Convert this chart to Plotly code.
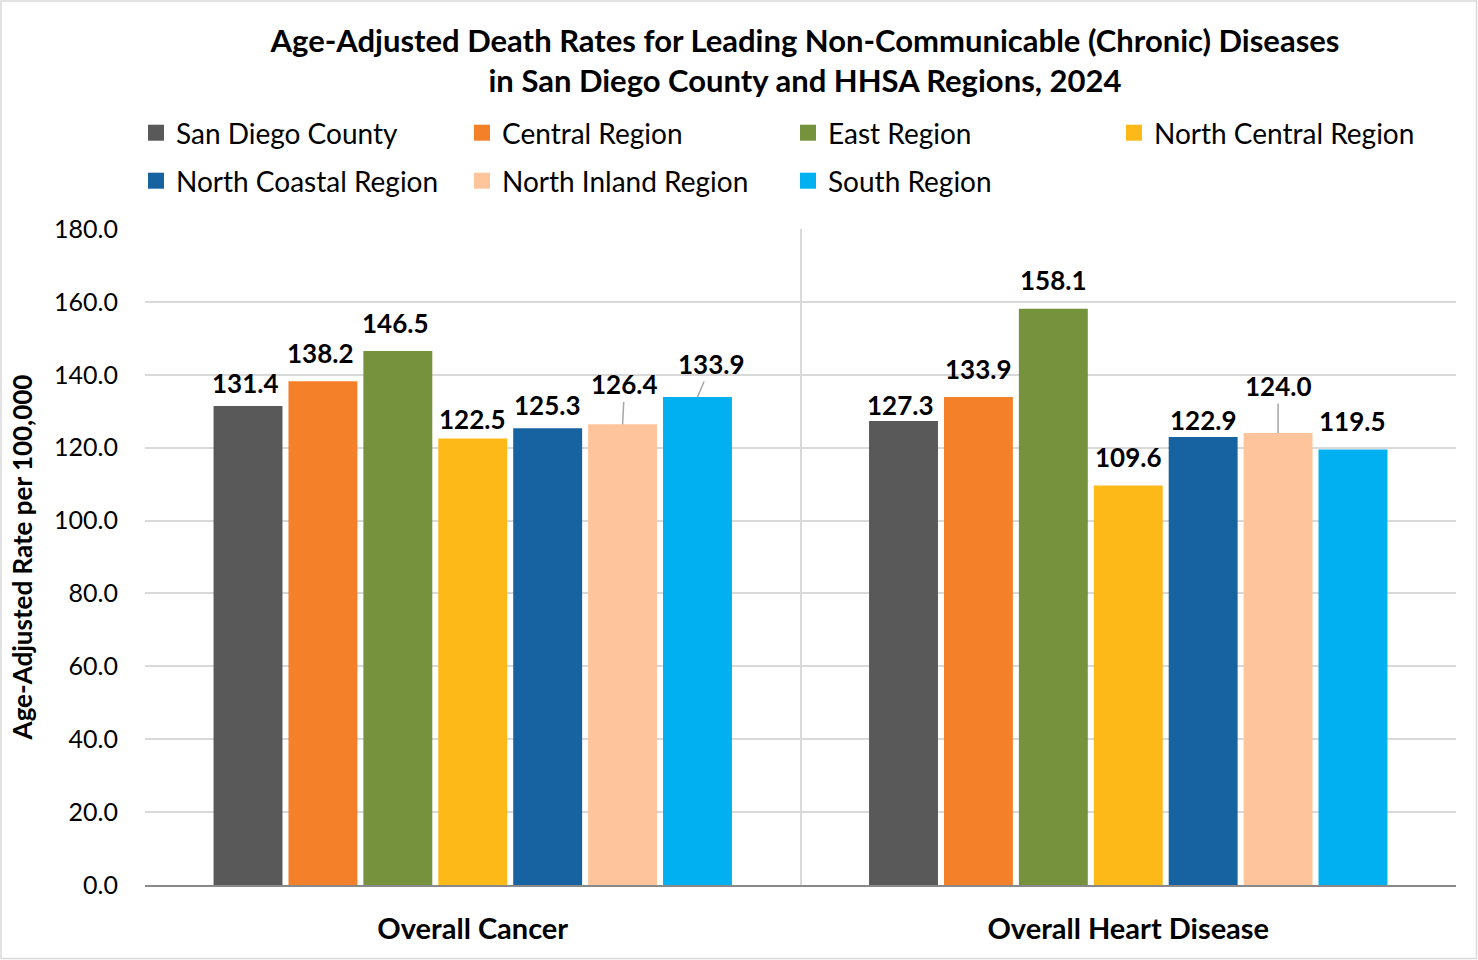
import plotly.graph_objects as go

categories = ["Overall Cancer", "Overall Heart Disease"]
series_names = ["San Diego County", "Central Region", "East Region", "North Central Region",
                "North Coastal Region", "North Inland Region", "South Region"]
san_diego = [131.4, 127.3]
central = [138.2, 133.9]
east = [146.5, 158.1]
north_central = [122.5, 109.6]
north_coastal = [125.3, 122.9]
north_inland = [126.4, 124.0]
south = [133.9, 119.5]
series_values = [san_diego, central, east, north_central, north_coastal, north_inland, south]
y_ticks = [0, 20, 40, 60, 80, 100, 120, 140, 160, 180]

colors = ["#595959", "#F4812A", "#77923C", "#FCB918", "#1762A0", "#FEC49C", "#00B0F0"]
# label placement styling: (dx px, dy px above bar top, leader line)
label_style = [
    [(-3, 23, False), (-3, 16, False)],
    [(-2, 28, False), (0, 28, False)],
    [(-2, 28, False), (0, 29, False)],
    [(0, 20, False), (0, 29, False)],
    [(0, 23, False), (0, 17, False)],
    [(2, 40, True), (0, 47, True)],
    [(14, 33, True), (0, 28, False)],
]

FONT = "Lato"
W, H = 1478, 960
L, R, T, B = 145, 22, 229, 75
bargap = 0.2

fig = go.Figure()
for j, (name, vals) in enumerate(zip(series_names, series_values)):
    fig.add_trace(go.Bar(
        x=categories, y=vals, name=name, marker=dict(color=colors[j], line=dict(width=0)),
        showlegend=False, hoverinfo="skip",
    ))
# legend entries (large square swatches)
for j, name in enumerate(series_names):
    fig.add_trace(go.Scatter(
        x=[None], y=[None], mode="markers", name=name,
        marker=dict(symbol="square", size=16, color=colors[j]),
        legend="legend" if j < 4 else "legend2", showlegend=True, hoverinfo="skip",
    ))

annotations = []
n = len(series_names)
for j, vals in enumerate(series_values):
    for i, v in enumerate(vals):
        dx, dy, leader = label_style[j][i]
        xpos = i + (j - (n - 1) / 2) * (1 - bargap) / n
        if leader:
            annotations.append(dict(
                x=xpos, y=v, xref="x", yref="y", text=f"<b>{v:.1f}</b>",
                showarrow=True, arrowhead=0, arrowwidth=1.5, arrowcolor="#A6A6A6",
                ax=dx, ay=-dy, standoff=0,
                font=dict(family=FONT, size=26, color="#000000"),
            ))
        else:
            annotations.append(dict(
                x=xpos, y=v, xref="x", yref="y", text=f"<b>{v:.1f}</b>",
                showarrow=False, xshift=dx, yshift=dy, yanchor="middle",
                font=dict(family=FONT, size=26, color="#000000"),
            ))

pw = W - L - R
ph = H - T - B
shapes = [dict(type="rect", xref="paper", yref="paper",
               x0=-(L - 1) / pw, x1=(W - L - 1.5) / pw,
               y0=-(B - 1.5) / ph, y1=(H - B - 1) / ph,
               line=dict(color="#D9D9D9", width=1.5), fillcolor="rgba(0,0,0,0)", layer="below")]

legend_common = dict(orientation="h", xref="container", yref="container",
                     yanchor="top", xanchor="left", entrywidth=281, entrywidthmode="pixels",
                     font=dict(family=FONT, size=28, color="#000000"), bgcolor="rgba(0,0,0,0)",
                     traceorder="normal")

fig.update_layout(
    width=W, height=H,
    margin=dict(l=L, r=R, t=T, b=B, autoexpand=False),
    paper_bgcolor="white", plot_bgcolor="white",
    barmode="group", bargap=bargap, bargroupgap=0.08,
    font=dict(family=FONT, color="#000000"),
    title=dict(
        text="<b>Age-Adjusted Death Rates for Leading Non-Communicable (Chronic) Diseases<br>in San Diego County and HHSA Regions, 2024</b>",
        x=805 / W, xanchor="center", xref="container",
        y=1 - 52 / H, yanchor="top", yref="container",
        font=dict(family=FONT, size=31, color="#000000"),
    ),
    legend=dict(x=136 / W, y=1 - 108 / H, **legend_common),
    legend2=dict(x=136 / W, y=1 - 156 / H, **legend_common),
    xaxis=dict(
        type="category", tickson="boundaries", showgrid=True, gridcolor="#D9D9D9", gridwidth=1.5,
        showline=True, linecolor="#898989", linewidth=2, ticks="",
        tickfont=dict(family=FONT, size=29, color="#000000"),
        ticklabelstandoff=17, zeroline=False, automargin=False,
        tickvals=categories, ticktext=[f"<b>{c}</b>" for c in categories],
    ),
    yaxis=dict(
        range=[0, 180], tickvals=y_ticks, tickformat=".1f",
        showgrid=True, gridcolor="#D9D9D9", gridwidth=1.5, zeroline=False,
        showline=False, ticks="", ticklabelstandoff=26, automargin=False,
        tickfont=dict(family=FONT, size=25, color="#000000"),
        title=dict(text="<b>Age-Adjusted Rate per 100,000</b>", standoff=13,
                   font=dict(family=FONT, size=26, color="#000000")),
    ),
    annotations=annotations,
    shapes=shapes,
)

fig.write_html("out.html", config={"displayModeBar": False},
               post_script="document.body.style.margin='0';document.body.style.overflow='hidden';")
